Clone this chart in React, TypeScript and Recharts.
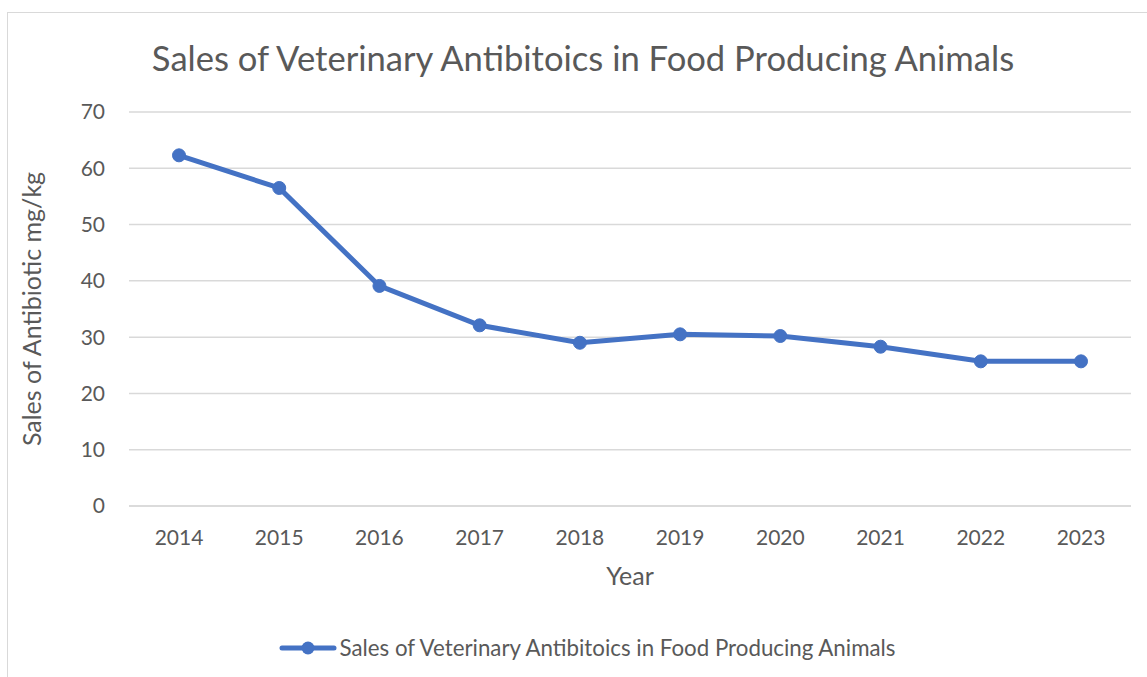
import { LineChart, Line, XAxis, YAxis, CartesianGrid, Legend } from 'recharts';

const years = ['2014', '2015', '2016', '2017', '2018', '2019', '2020', '2021', '2022', '2023'];
const sales = [62.3, 56.5, 39.1, 32.1, 29.0, 30.5, 30.2, 28.3, 25.7, 25.7];
const yTicks = [0, 10, 20, 30, 40, 50, 60, 70];

const seriesName = 'Sales of Veterinary Antibitoics in Food Producing Animals';
const FONT = 'Lato, "Open Sans", sans-serif';
const TEXT = '#595959';
const GRID = '#d9d9d9';
const BLUE = '#4472C4';

const data = years.map((year, i) => ({ year, sales: sales[i] }));

// legend drawn by hand so the icon matches the line + dot marker
const LegendContent = () => (
  <div
    style={{
      height: 71,
      display: 'flex',
      alignItems: 'center',
      justifyContent: 'center',
      paddingLeft: 44,
      paddingTop: 12,
      boxSizing: 'border-box',
    }}
  >
    <svg width={58} height={16} style={{ marginRight: 2 }}>
      <line x1={3} y1={8} x2={55} y2={8} stroke={BLUE} strokeWidth={5} strokeLinecap="round" />
      <circle cx={29} cy={8} r={6.5} fill={BLUE} />
    </svg>
    <span style={{ fontFamily: FONT, fontSize: 22.3, color: TEXT }}>{seriesName}</span>
  </div>
);

export default function App() {
  return (
    <div style={{ position: 'absolute', left: 0, top: 0, width: 1147, height: 677, background: '#fff', overflow: 'hidden' }}>
      <div
        style={{
          position: 'absolute',
          left: 7,
          top: 12,
          width: 1145,
          height: 700,
          border: `1.5px solid ${GRID}`,
        }}
      />
      <div
        style={{
          position: 'absolute',
          left: 0,
          width: 1166,
          top: 34,
          textAlign: 'center',
          fontFamily: FONT,
          fontSize: 34.6,
          color: TEXT,
          lineHeight: '48px',
        }}
      >
        {seriesName}
      </div>
      <LineChart
        width={1147}
        height={677}
        data={data}
        margin={{ top: 112, right: 16, bottom: 0, left: 0 }}
        style={{ position: 'absolute', left: 0, top: 0 }}
      >
        <CartesianGrid vertical={false} stroke={GRID} strokeWidth={1.5} />
        <XAxis
          dataKey="year"
          height={100}
          padding={{ left: 50, right: 50 }}
          tickSize={0}
          tickMargin={24}
          axisLine={{ stroke: GRID, strokeWidth: 1.5 }}
          tick={{ fill: TEXT, fontSize: 21, fontFamily: FONT }}
          label={{
            value: 'Year',
            position: 'insideBottom',
            offset: 21,
            fill: TEXT,
            fontSize: 25,
            fontFamily: FONT,
          }}
        />
        <YAxis
          width={129}
          domain={[0, 70]}
          ticks={yTicks}
          tickSize={0}
          tickMargin={24}
          axisLine={false}
          tick={{ fill: TEXT, fontSize: 21, fontFamily: FONT }}
          label={{
            value: 'Sales of Antibiotic mg/kg',
            angle: -90,
            position: 'insideLeft',
            offset: 32,
            textAnchor: 'middle',
            fill: TEXT,
            fontSize: 25,
            fontFamily: FONT,
          }}
        />
        <Legend verticalAlign="bottom" content={<LegendContent />} />
        <Line
          type="linear"
          dataKey="sales"
          name={seriesName}
          stroke={BLUE}
          strokeWidth={5}
          dot={{ r: 6.5, fill: BLUE, stroke: BLUE, strokeWidth: 1 }}
          isAnimationActive={false}
        />
      </LineChart>
    </div>
  );
}
